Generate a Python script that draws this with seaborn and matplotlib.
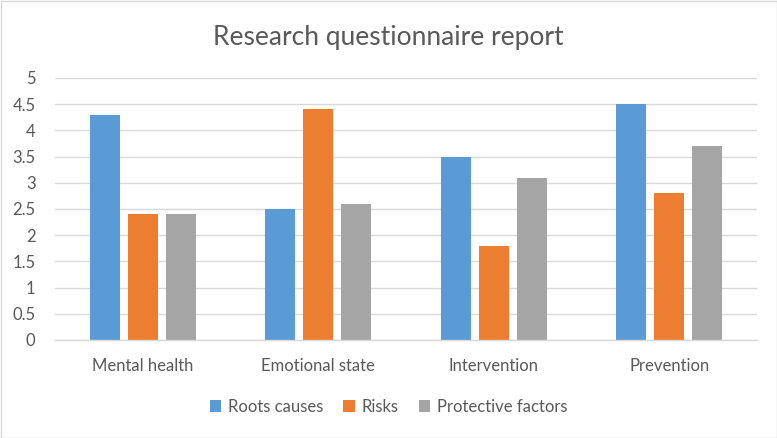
import matplotlib
matplotlib.use("Agg")
import matplotlib.pyplot as plt
import seaborn as sns
import pandas as pd
from matplotlib.patches import Patch

categories = ["Mental health", "Emotional state", "Intervention", "Prevention"]
series_names = ["Roots causes", "Risks", "Protective factors"]
roots_causes = [4.3, 2.5, 3.5, 4.5]
risks = [2.4, 4.4, 1.8, 2.8]
protective = [2.4, 2.6, 3.1, 3.7]
yticks = [0, 0.5, 1, 1.5, 2, 2.5, 3, 3.5, 4, 4.5, 5]
colors = ["#5B9BD5", "#ED7D31", "#A5A5A5"]

rows = []
for name, vals in zip(series_names, [roots_causes, risks, protective]):
    for c, v in zip(categories, vals):
        rows.append({"Category": c, "Series": name, "Value": v})
df = pd.DataFrame(rows)

sns.set_theme(style="white")
plt.rcParams['font.family'] = ['Lato', 'DejaVu Sans']
txt = "#595959"

fig = plt.figure(figsize=(7.77, 4.38), dpi=100)
ax = fig.add_axes([55/777, 1-340/438, 702/777, 262/438])
sns.barplot(data=df, x="Category", y="Value", hue="Series", palette=colors,
            width=0.65, gap=0.21, ax=ax, legend=False, saturation=1, linewidth=0)
ax.set_ylim(0, 5)
ax.set_xlim(-0.5, 3.5)
ax.set_yticks(yticks)
ax.set_yticklabels([f"{t:g}" for t in yticks], color=txt, fontsize=12)
ax.set_xticklabels(categories, color=txt, fontsize=12)
ax.tick_params(axis="both", length=0)
ax.tick_params(axis="x", pad=13)
ax.tick_params(axis="y", pad=14)
ax.set_xlabel("")
ax.set_ylabel("")
ax.grid(axis="y", color="#D9D9D9", linewidth=1)
ax.set_axisbelow(True)
for s in ["left", "right", "top"]:
    ax.spines[s].set_visible(False)
ax.spines["bottom"].set_color("#D9D9D9")
ax.spines["bottom"].set_linewidth(1)

fig.text(0.5, 1-37/438, "Research questionnaire report", ha="center", va="center",
         fontsize=19, color=txt)

handles = [Patch(facecolor=c, edgecolor="none") for c in colors]
fig.legend(handles, series_names, loc="center", bbox_to_anchor=(0.5, 1-407/438),
           ncol=3, frameon=False, fontsize=12, labelcolor=txt,
           handlelength=0.7, handleheight=0.7, handletextpad=0.4, columnspacing=1.2)

border = plt.Rectangle((0.5/777, 0.5/438), 1-1/777, 1-1/438, transform=fig.transFigure,
                       fill=False, edgecolor="#D9D9D9", linewidth=1)
fig.patches.append(border)

fig.savefig("out.png", dpi=100, facecolor="white")
